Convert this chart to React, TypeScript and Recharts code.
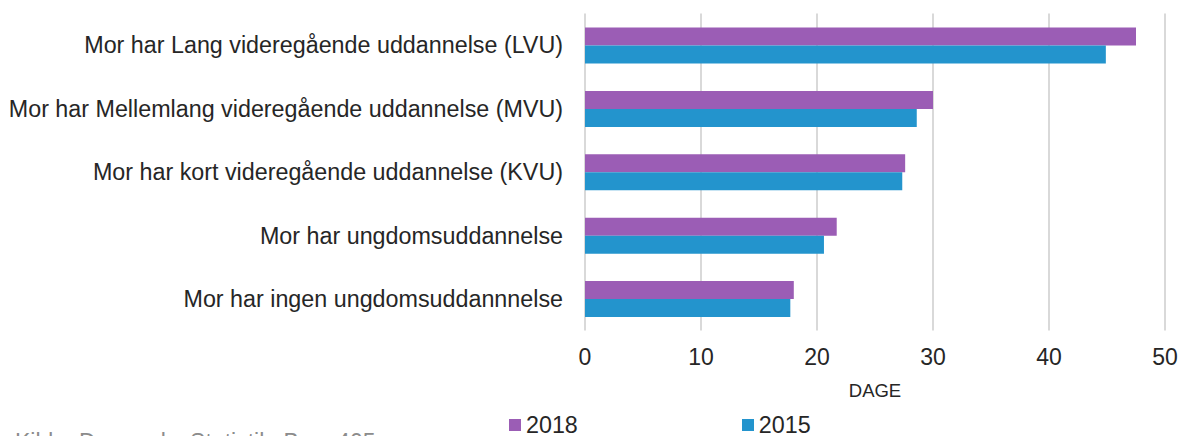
// App.tsx — fravær efter mors uddannelse, 2018 vs 2015 (vandret søjlediagram)

import { Bar, BarChart, CartesianGrid, Legend, XAxis, YAxis } from "recharts";

const categories = [
  "Mor har Lang videregående uddannelse (LVU)",
  "Mor har Mellemlang videregående uddannelse (MVU)",
  "Mor har kort videregående uddannelse (KVU)",
  "Mor har ungdomsuddannelse",
  "Mor har ingen ungdomsuddannnelse",
];
const values2018 = [47.5, 30.0, 27.6, 21.7, 18.0];
const values2015 = [44.9, 28.6, 27.35, 20.6, 17.7];
const xTicks = [0, 10, 20, 30, 40, 50];

const PURPLE = "#9B5DB5";
const BLUE = "#2394CD";
const FONT = "'Liberation Sans', Arial, sans-serif";

const series = [
  { key: "y2018", name: "2018", color: PURPLE },
  { key: "y2015", name: "2015", color: BLUE },
];

const data = categories.map((name, i) => ({
  name,
  y2018: values2018[i],
  y2015: values2015[i],
}));

// legend order fixed to match the series list (2018 first)
function LegendRow() {
  return (
    <div style={{ display: "flex", paddingTop: 8, paddingLeft: 509, fontSize: 23.3, lineHeight: "22px", color: "#262626" }}>
      {series.map((s, i) => (
        <div key={s.key} style={{ display: "flex", alignItems: "center", marginLeft: i === 0 ? 0 : 164 }}>
          <span style={{ width: 12, height: 12, background: s.color, marginRight: 5, display: "inline-block" }} />
          <span>{s.name}</span>
        </div>
      ))}
    </div>
  );
}

export default function App() {
  return (
    <div style={{ position: "fixed", left: 0, top: 0, width: 1182, height: 436, overflow: "hidden", background: "#fff", fontFamily: FONT }}>
      <BarChart
        width={1182}
        height={436}
        data={data}
        layout="vertical"
        margin={{ top: 13.5, right: 17, bottom: 0, left: 0 }}
        barGap={0}
        barSize={18}
      >
        <CartesianGrid horizontal={false} stroke="#d9d9d9" strokeWidth={2} />
        <XAxis
          type="number"
          domain={[0, 50]}
          ticks={xTicks}
          axisLine={false}
          tickLine={false}
          tickMargin={12}
          height={75.5}
          tick={{ fontSize: 23, fill: "#262626", fontFamily: FONT }}
          label={{ value: "DAGE", position: "insideBottom", offset: 9.5, fontSize: 18.5, fill: "#262626", fontFamily: FONT }}
        />
        <YAxis
          type="category"
          dataKey="name"
          width={585}
          axisLine={false}
          tickLine={false}
          tickMargin={16}
          interval={0}
          tick={{ fontSize: 23.3, fill: "#262626", fontFamily: FONT }}
        />
        <Legend
          verticalAlign="bottom"
          align="left"
          wrapperStyle={{ height: 30, left: 0, width: 1182 }}
          content={() => <LegendRow />}
        />
        {series.map((s) => (
          <Bar key={s.key} dataKey={s.key} name={s.name} fill={s.color} isAnimationActive={false} />
        ))}
      </BarChart>
      <div style={{ position: "absolute", left: 15, top: 431, fontSize: 23, lineHeight: "23px", color: "#8c8c8c", whiteSpace: "nowrap" }}>
        Kilde: Danmarks Statistik, Bem 405
      </div>
    </div>
  );
}
